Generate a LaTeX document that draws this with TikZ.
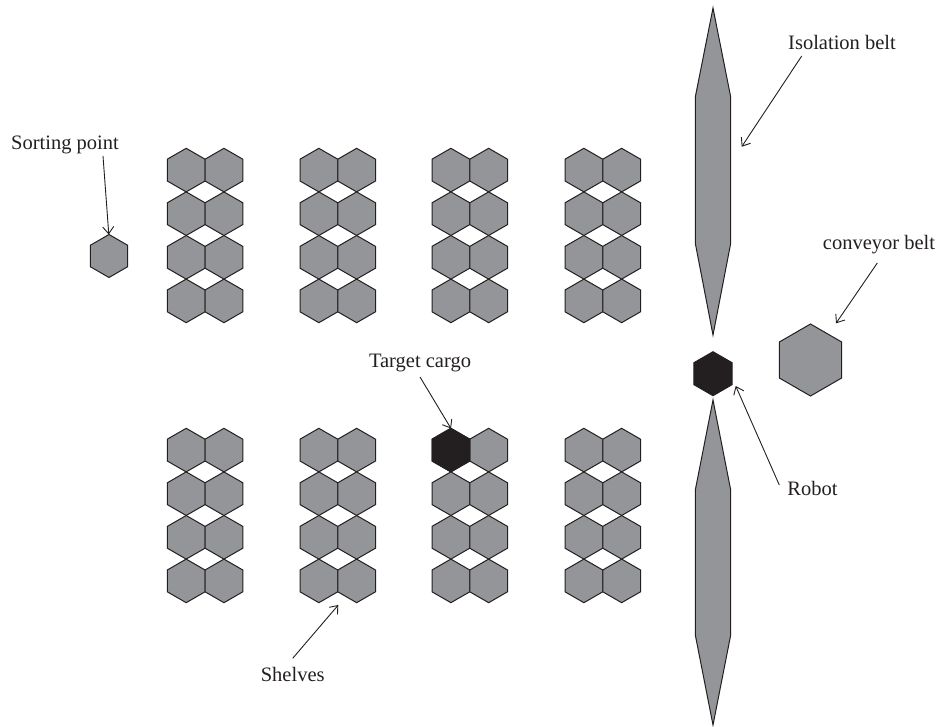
\documentclass[tikz,border=0pt]{standalone}
\usepackage{fontspec}
\setmainfont{Liberation Serif}
\usetikzlibrary{arrows.meta}
\definecolor{cellgray}{HTML}{939598}
\definecolor{inkdark}{HTML}{231F20}
\tikzset{
  cell/.style={draw=inkdark, fill=cellgray, line width=1pt, line join=miter},
  darkcell/.style={draw=inkdark, fill=inkdark, line width=1pt},
  belt/.style={draw=inkdark, fill=cellgray, line width=1pt, line join=miter},
  lbl/.style={anchor=base, inner sep=0pt, text=inkdark, font=\fontsize{20.5}{24}\selectfont},
  pointer/.style={draw=inkdark, line width=0.9pt, -{Straight Barb[length=7pt,width=11pt,line width=0.9pt]}}
}
% pointy-top hexagon centred at (#1,#2) with circumradius #3
\newcommand\hexcell[4]{%
  \path[#4] (#1,#2) +(90:#3) -- +(30:#3) -- +(-30:#3) -- +(-90:#3)
    -- +(-150:#3) -- +(150:#3) -- cycle;}
\begin{document}
\begin{tikzpicture}[x=1pt,y=-1pt]
\useasboundingbox (0,0) rectangle (940,727);
\def\R{21.8}
% shelf blocks: two columns of four cells each
\foreach \bx in {167.3,300,432,565}{
  \foreach \row in {0,1,2,3}{
    \pgfmathsetmacro\cxa{\bx+18.88}
    \pgfmathsetmacro\cxb{\bx+56.64}
    \pgfmathsetmacro\cyt{170.1+43.6*\row}
    \pgfmathsetmacro\cyb{450.1+43.6*\row}
    \hexcell{\cxa}{\cyt}{\R}{cell}
    \hexcell{\cxb}{\cyt}{\R}{cell}
    \hexcell{\cxa}{\cyb}{\R}{cell}
    \hexcell{\cxb}{\cyb}{\R}{cell}
  }
}
% target cargo cell
\hexcell{450.88}{450.1}{\R}{darkcell}
% sorting point
\hexcell{109}{256}{21.5}{cell}
% isolation belts
\path[belt] (713,8) -- (730.7,97) -- (730.7,243.3) -- (713,335)
  -- (695.3,243.3) -- (695.3,97) -- cycle;
\path[belt] (713,400) -- (730.7,490) -- (730.7,635) -- (713,725)
  -- (695.3,635) -- (695.3,490) -- cycle;
% robot
\hexcell{713}{373.7}{22}{darkcell}
% conveyor belt
\hexcell{810.5}{360}{36}{cell}

% labels
\node[lbl] (sortLbl) at (65,150) {Sorting point};
\node[lbl] (isoLbl) at (842,50) {Isolation belt};
\node[lbl] (convLbl) at (879,250) {conveyor belt};
\node[lbl] (cargoLbl) at (420,367.7) {Target cargo};
\node[lbl] (robotLbl) at (812.5,495) {Robot};
\node[lbl] (shelfLbl) at (292.7,681.7) {Shelves};

% pointer ends
\coordinate (sortTail) at (103,156);
\coordinate (sortTip) at (108.8,234.5);
\coordinate (isoTail) at (801.7,56);
\coordinate (isoTip) at (741.7,146.7);
\coordinate (convTail) at (877.3,263);
\coordinate (convTip) at (836,323.3);
\coordinate (cargoTail) at (420,377);
\coordinate (cargoTip) at (451,428.5);
\coordinate (robotTail) at (779.3,485);
\coordinate (robotTip) at (735.7,386);
\coordinate (shelfTail) at (292.7,658.3);
\coordinate (shelfTip) at (338.3,605);

\draw[pointer] (sortTail) -- (sortTip);
\draw[pointer] (isoTail) -- (isoTip);
\draw[pointer] (convTail) -- (convTip);
\draw[pointer] (cargoTail) -- (cargoTip);
\draw[pointer] (robotTail) -- (robotTip);
\draw[pointer] (shelfTail) -- (shelfTip);
\end{tikzpicture}
\end{document}
